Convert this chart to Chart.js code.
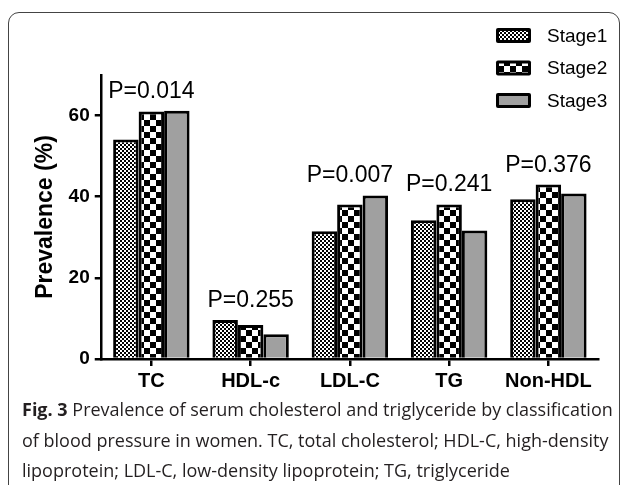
<!DOCTYPE html>
<html>
<head>
<meta charset="utf-8">
<script src="https://cdn.jsdelivr.net/npm/chart.js@4.4.1/dist/chart.umd.min.js"></script>
<style>
  body { margin: 0; background: #fff; width: 627px; height: 485px; overflow: hidden; position: relative; }
  #frame { position: absolute; left: 8px; top: 12px; width: 612px; height: 490px; border: 1.5px solid #444; border-radius: 11px; box-sizing: border-box; }
  #chart { position: absolute; left: 0; top: 0; }
  #caption { position: absolute; left: 22px; top: 394px; font-family: "Open Sans", sans-serif; font-size: 18px; line-height: 30.5px; color: #231f20; white-space: nowrap; letter-spacing: 0px; }
  #caption b { font-weight: 700; }
</style>
</head>
<body>
<div id="frame"></div>
<canvas id="chart" width="627" height="400"></canvas>
<div id="caption"><b>Fig. 3</b> Prevalence of serum cholesterol and triglyceride by classification<br>of blood pressure in women. TC, total cholesterol; HDL-C, high-density<br>lipoprotein; LDL-C, low-density lipoprotein; TG, triglyceride</div>
<script>
const groups = ["TC", "HDL-c", "LDL-C", "TG", "Non-HDL"];
const stage1 = [54.1, 9.6, 31.5, 34.2, 39.4];
const stage2 = [61.0, 8.4, 38.1, 38.1, 43.0];
const stage3 = [61.2, 6.1, 40.3, 31.7, 40.8];
const pValues = ["P=0.014", "P=0.255", "P=0.007", "P=0.241", "P=0.376"];
const seriesNames = ["Stage1", "Stage2", "Stage3"];

function checker(size) {
  const c = document.createElement("canvas");
  c.width = size * 2;
  c.height = size * 2;
  const g = c.getContext("2d");
  g.fillStyle = "#fff";
  g.fillRect(0, 0, size * 2, size * 2);
  g.fillStyle = "#000";
  g.fillRect(0, 0, size, size);
  g.fillRect(size, size, size, size);
  return g.createPattern(c, "repeat");
}

const ctx = document.getElementById("chart").getContext("2d");
const fills = [checker(2), checker(6), "#a0a0a0"];

Chart.defaults.font.family = "'Liberation Sans', Arial, sans-serif";
Chart.defaults.color = "#000";

// P value above each group + legend in top right
const annotate = {
  id: "annotate",
  afterDatasetsDraw(chart) {
    const c = chart.ctx;
    const x = chart.scales.x;
    c.save();
    c.fillStyle = "#000";
    c.font = "23px 'Liberation Sans', Arial, sans-serif";
    c.textAlign = "center";
    c.textBaseline = "alphabetic";
    groups.forEach((g, i) => {
      let top = Infinity;
      chart.data.datasets.forEach((d, k) => {
        top = Math.min(top, chart.getDatasetMeta(k).data[i].y);
      });
      c.fillText(pValues[i], x.getPixelForValue(i), top - 13);
    });

    c.font = "19px 'Liberation Sans', Arial, sans-serif";
    c.textAlign = "left";
    c.textBaseline = "middle";
    seriesNames.forEach((name, k) => {
      const cy = 35.5 + k * 32.5;
      c.fillStyle = "#000";
      c.beginPath();
      c.roundRect(496, cy - 7.5, 35, 15, 2);
      c.fill();
      c.fillStyle = fills[k];
      c.fillRect(499, cy - 4.5, 29, 9);
      c.fillStyle = "#000";
      c.fillText(name, 547, cy + 1);
    });
    c.restore();
  }
};

new Chart(ctx, {
  type: "bar",
  data: {
    labels: groups,
    datasets: seriesNames.map((name, k) => ({
      label: name,
      data: [stage1, stage2, stage3][k],
      backgroundColor: fills[k],
      borderColor: "#000",
      borderWidth: 3,
      categoryPercentage: 0.77,
      barPercentage: 1
    }))
  },
  options: {
    responsive: false,
    animation: false,
    devicePixelRatio: 1,
    layout: { padding: { left: 28, right: 29, top: 75, bottom: 4 } },
    plugins: {
      legend: { display: false },
      tooltip: { enabled: false }
    },
    scales: {
      x: {
        grid: { offset: false, drawOnChartArea: false, drawTicks: true, tickLength: 7, color: "#000", lineWidth: 2.5 },
        border: { color: "#000", width: 2.5 },
        ticks: { font: { size: 20, weight: "bold" }, padding: 3 }
      },
      y: {
        min: 0,
        max: 70,
        afterBuildTicks(scale) {
          scale.ticks = scale.ticks.filter(t => t.value % 20 === 0);
        },
        grid: { drawOnChartArea: false, drawTicks: true, tickLength: 7, color: "#000", lineWidth: 2.5 },
        border: { color: "#000", width: 2.5 },
        ticks: { stepSize: 20, font: { size: 19, weight: "bold" }, padding: 5 },
        title: { display: true, text: "Prevalence (%)", font: { size: 23, weight: "bold" }, padding: 4 }
      }
    }
  },
  plugins: [annotate]
});
</script>
</body>
</html>
